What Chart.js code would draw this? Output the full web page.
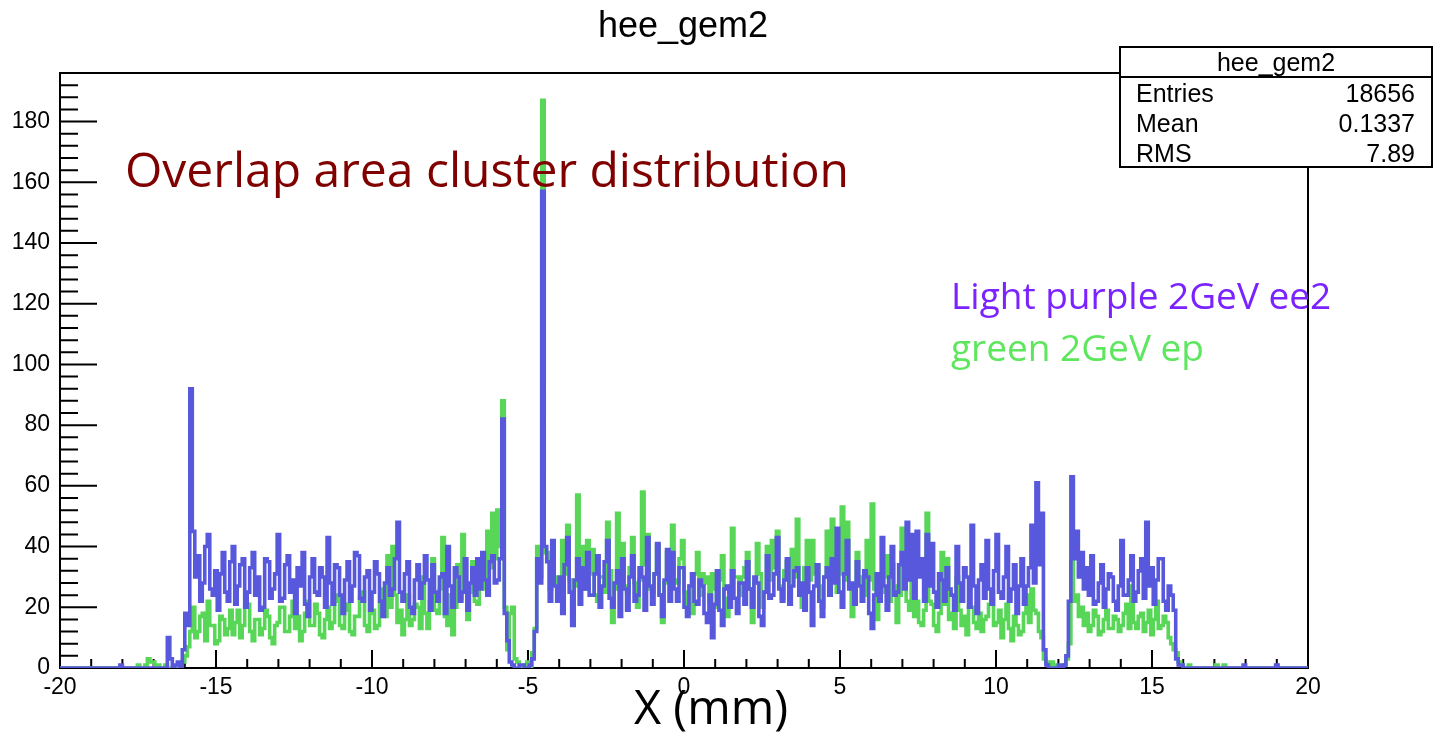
<!DOCTYPE html>
<html>
<head>
<meta charset="utf-8">
<script src="https://cdn.jsdelivr.net/npm/chart.js@4/dist/chart.umd.min.js"></script>
<style>
  html, body { margin: 0; padding: 0; background: #fff; }
</style>
</head>
<body>
<canvas id="c" width="1435" height="732"></canvas>
<script>
// histogram binning (mm), 0.08 mm bins
const xMin = -20;
const xMax = 20;
const nBins = 500;

// light purple: 2GeV ee2 (20 bins per row = 1.6 mm)
const ee2Counts = [
  0, 0, 0, 0, 0, 0, 0, 0, 0, 0, 0, 0, 0, 0, 0, 0, 0, 0, 0, 0,
  0, 0, 0, 0, 0, 1, 0, 0, 0, 0, 0, 0, 0, 0, 0, 0, 0, 0, 0, 0,
  0, 0, 0, 0, 10, 3, 0, 1, 2, 0, 6, 18, 14, 92, 45, 30, 37, 22, 28, 40,
  44, 26, 24, 32, 19, 31, 38, 25, 22, 35, 40, 21, 27, 34, 36, 20, 25, 33, 38, 24,
  30, 19, 20, 36, 35, 23, 26, 31, 44, 22, 23, 34, 37, 25, 29, 18, 33, 27, 38, 21,
  17, 30, 36, 25, 24, 33, 30, 20, 43, 28, 21, 34, 33, 24, 18, 29, 35, 22, 27, 38,
  37, 23, 22, 30, 32, 19, 25, 35, 31, 22, 17, 28, 33, 24, 26, 36, 48, 25, 22, 31,
  35, 20, 18, 29, 34, 23, 28, 37, 29, 19, 34, 25, 22, 30, 31, 18, 40, 27, 20, 33,
  30, 22, 25, 36, 19, 28, 33, 24, 36, 26, 38, 29, 24, 35, 37, 28, 29, 36, 82, 18,
  9, 2, 1, 0, 0, 1, 1, 0, 0, 1, 3, 12, 36, 28, 157, 40, 35, 22, 42, 27,
  22, 30, 18, 34, 43, 25, 14, 29, 36, 21, 33, 26, 38, 24, 24, 31, 37, 20, 27, 35,
  42, 23, 20, 28, 32, 17, 36, 26, 19, 30, 37, 22, 24, 33, 30, 19, 43, 27, 21, 31,
  41, 24, 17, 29, 39, 22, 38, 26, 22, 33, 33, 20, 17, 27, 31, 22, 21, 29, 27, 18,
  15, 24, 10, 21, 32, 19, 14, 26, 27, 20, 32, 23, 18, 28, 28, 21, 35, 26, 20, 30,
  28, 17, 14, 25, 37, 23, 24, 31, 43, 26, 22, 29, 36, 21, 27, 32, 33, 24, 28, 19,
  33, 25, 14, 27, 34, 22, 17, 30, 33, 24, 36, 28, 46, 25, 20, 31, 42, 26, 28, 21,
  35, 27, 22, 32, 30, 18, 13, 24, 31, 22, 43, 27, 19, 30, 40, 24, 25, 34, 38, 26,
  48, 29, 44, 23, 45, 30, 36, 22, 44, 27, 41, 25, 20, 31, 29, 22, 33, 26, 24, 19,
  40, 28, 22, 33, 30, 20, 47, 27, 18, 29, 34, 23, 42, 26, 21, 32, 44, 25, 23, 30,
  40, 22, 26, 34, 18, 27, 36, 21, 27, 33, 47, 28, 61, 34, 51, 6, 1, 0, 0, 0,
  0, 1, 0, 1, 4, 22, 63, 36, 45, 30, 38, 26, 33, 24, 37, 21, 22, 28, 34, 20,
  26, 31, 30, 22, 19, 27, 42, 24, 24, 29, 37, 22, 25, 32, 36, 23, 48, 27, 33, 21,
  29, 36, 36, 22, 19, 27, 24, 19, 3, 1, 1, 0, 0, 0, 0, 0, 0, 0, 0, 0,
  0, 0, 0, 0, 0, 0, 0, 0, 0, 0, 0, 0, 0, 0, 0, 1, 0, 0, 0, 0,
  0, 0, 0, 0, 0, 0, 0, 0, 1, 0, 0, 0, 0, 0, 0, 0, 0, 0, 0, 0
];

// green: 2GeV ep
const epCounts = [
  0, 0, 0, 0, 0, 0, 0, 0, 0, 0, 0, 0, 0, 0, 0, 0, 0, 0, 0, 0,
  0, 0, 0, 0, 0, 0, 0, 0, 0, 0, 0, 0, 1, 0, 0, 1, 3, 2, 2, 1,
  1, 0, 0, 1, 0, 0, 0, 0, 1, 0, 2, 4, 7, 12, 20, 10, 12, 17, 18, 9,
  22, 14, 14, 8, 9, 17, 16, 11, 13, 19, 11, 15, 19, 10, 14, 20, 21, 12, 9, 16,
  16, 11, 13, 19, 17, 10, 8, 14, 15, 20, 20, 12, 12, 17, 22, 13, 17, 9, 12, 18,
  22, 14, 14, 21, 18, 11, 10, 16, 20, 13, 15, 22, 24, 14, 13, 19, 21, 12, 11, 17,
  17, 23, 25, 14, 12, 18, 19, 13, 14, 21, 26, 17, 37, 20, 40, 24, 15, 19, 11, 16,
  24, 14, 16, 21, 20, 13, 30, 18, 13, 22, 36, 19, 18, 26, 43, 17, 14, 24, 11, 20,
  34, 23, 44, 27, 16, 25, 35, 22, 21, 30, 31, 26, 45, 33, 51, 36, 52, 40, 88, 20,
  6, 18, 20, 3, 2, 0, 0, 1, 2, 0, 5, 13, 40, 30, 187, 38, 38, 26, 36, 30,
  28, 22, 42, 31, 47, 29, 16, 27, 57, 33, 40, 26, 42, 31, 39, 24, 22, 30, 30, 25,
  48, 32, 15, 26, 51, 30, 41, 27, 25, 33, 43, 28, 20, 29, 58, 34, 44, 26, 25, 31,
  40, 24, 15, 28, 38, 30, 47, 29, 28, 36, 42, 25, 20, 27, 18, 31, 38, 24, 31, 28,
  30, 22, 31, 26, 20, 29, 37, 23, 17, 27, 46, 30, 30, 24, 30, 33, 38, 26, 15, 28,
  41, 31, 20, 25, 40, 29, 42, 33, 45, 27, 23, 32, 35, 28, 39, 30, 49, 26, 20, 33,
  42, 29, 42, 31, 34, 27, 20, 30, 45, 28, 49, 33, 25, 31, 53, 29, 48, 27, 17, 25,
  38, 30, 27, 24, 42, 29, 54, 26, 16, 23, 25, 30, 37, 22, 34, 27, 15, 24, 46, 28,
  22, 19, 32, 17, 22, 15, 14, 19, 51, 22, 21, 14, 12, 18, 38, 21, 36, 16, 18, 13,
  30, 19, 14, 17, 11, 20, 20, 15, 13, 18, 12, 16, 17, 21, 25, 14, 15, 19, 10, 16,
  21, 13, 9, 17, 14, 11, 12, 18, 24, 15, 26, 19, 18, 12, 10, 3, 2, 1, 2, 1,
  0, 0, 0, 1, 3, 8, 35, 22, 24, 17, 20, 14, 18, 12, 14, 19, 17, 11, 12, 16,
  19, 13, 13, 17, 16, 12, 14, 18, 21, 13, 27, 15, 13, 17, 18, 12, 15, 19, 11, 16,
  22, 13, 14, 17, 15, 10, 8, 6, 5, 2, 1, 0, 0, 1, 0, 0, 0, 0, 0, 0,
  0, 0, 0, 0, 1, 0, 0, 1, 0, 0, 0, 0, 0, 0, 0, 0, 0, 0, 0, 0,
  0, 0, 0, 0, 0, 0, 0, 0, 0, 0, 0, 0, 0, 0, 0, 0, 0, 0, 0, 0
];

const xTickLabels = [-20, -15, -10, -5, 0, 5, 10, 15, 20];
const yTickLabels = [0, 20, 40, 60, 80, 100, 120, 140, 160, 180];
const yMax = 196;

const statNames = ["Entries", "Mean", "RMS"];
const statValues = ["18656", "0.1337", "7.89"];

const histName = "hee_gem2";

// step points: one per bin low edge, plus the last upper edge
function toSteps(counts) {
  const w = (xMax - xMin) / nBins;
  const pts = counts.map((v, i) => ({ x: xMin + i * w, y: v }));
  pts.push({ x: xMax, y: counts[counts.length - 1] });
  return pts;
}

const AXIS_FONT = { family: "'Liberation Sans', Arial, sans-serif", size: 23 };

// ROOT style frame with inward ticks
const rootFrame = {
  id: "rootFrame",
  beforeDatasetsDraw(chart) {
    const { ctx, chartArea: a, scales } = chart;
    const x = scales.x, y = scales.y;
    ctx.save();
    ctx.strokeStyle = "#000";
    ctx.lineWidth = 2;
    ctx.strokeRect(a.left, a.top, a.right - a.left, a.bottom - a.top);
    ctx.beginPath();
    for (let v = 0; v <= yMax; v += 4) {
      const py = y.getPixelForValue(v);
      const len = v % 20 === 0 ? 37 : 18;
      ctx.moveTo(a.left, py);
      ctx.lineTo(a.left + len, py);
    }
    for (let v = xMin; v <= xMax; v++) {
      const px = x.getPixelForValue(v);
      const len = v % 5 === 0 ? 18 : 9;
      ctx.moveTo(px, a.bottom);
      ctx.lineTo(px, a.bottom - len);
    }
    ctx.stroke();
    ctx.restore();
  }
};

const labelsAndStats = {
  id: "labelsAndStats",
  afterDraw(chart) {
    const { ctx } = chart;
    ctx.save();

    // title
    ctx.fillStyle = "#000";
    ctx.font = "36px 'Liberation Sans', Arial, sans-serif";
    ctx.textAlign = "center";
    ctx.textBaseline = "alphabetic";
    ctx.fillText(histName, 683, 37);

    // stats box
    const bx = 1120, by = 47, bw = 312, bh = 120;
    ctx.fillStyle = "#fff";
    ctx.fillRect(bx, by, bw, bh);
    ctx.strokeStyle = "#000";
    ctx.lineWidth = 2;
    ctx.strokeRect(bx, by, bw, bh);
    ctx.beginPath();
    ctx.moveTo(bx, by + 30);
    ctx.lineTo(bx + bw, by + 30);
    ctx.stroke();
    ctx.fillStyle = "#000";
    ctx.font = "25px 'Liberation Sans', Arial, sans-serif";
    ctx.textAlign = "center";
    ctx.fillText(histName, bx + bw / 2, by + 24);
    statNames.forEach((n, i) => {
      const yy = by + 55 + i * 30;
      ctx.textAlign = "left";
      ctx.fillText(n, bx + 16, yy);
      ctx.textAlign = "right";
      ctx.fillText(statValues[i], bx + bw - 17, yy);
    });

    // annotations
    ctx.textAlign = "left";
    ctx.fillStyle = "#800000";
    ctx.font = "48px 'Open Sans', sans-serif";
    ctx.fillText("Overlap area cluster distribution", 125, 187);

    ctx.font = "37px 'Open Sans', sans-serif";
    ctx.fillStyle = "#7a22ff";
    ctx.fillText("Light purple 2GeV ee2", 951, 309);
    ctx.fillStyle = "#5ee65e";
    ctx.fillText("green 2GeV ep", 951, 361);

    ctx.fillStyle = "#000";
    ctx.font = "47px 'Open Sans', sans-serif";
    ctx.textAlign = "center";
    ctx.fillText("X (mm)", 711, 724);

    ctx.restore();
  }
};

const ctx = document.getElementById("c").getContext("2d");
const chart = new Chart(ctx, {
  type: "line",
  data: {
    datasets: [
      {
        label: "ee2",
        data: toSteps(ee2Counts),
        stepped: "after",
        borderColor: "#5858dc",
        borderWidth: 3.6,
        pointRadius: 0,
        fill: false,
        order: 0
      },
      {
        label: "ep",
        data: toSteps(epCounts),
        stepped: "after",
        borderColor: "#58d658",
        borderWidth: 3.6,
        pointRadius: 0,
        fill: false,
        order: 1
      }
    ]
  },
  options: {
    responsive: false,
    animation: false,
    layout: { padding: { top: 73, right: 127, left: 0, bottom: 0 } },
    plugins: {
      legend: { display: false },
      tooltip: { enabled: false }
    },
    scales: {
      x: {
        type: "linear",
        min: xMin,
        max: xMax,
        grid: { display: false },
        border: { display: false },
        afterBuildTicks: s => { s.ticks = xTickLabels.map(v => ({ value: v })); },
        afterFit: s => { s.height = 64; },
        ticks: { font: AXIS_FONT, color: "#000", padding: -2, maxRotation: 0, autoSkip: false }
      },
      y: {
        type: "linear",
        min: 0,
        max: yMax,
        grid: { display: false },
        border: { display: false },
        afterBuildTicks: s => { s.ticks = yTickLabels.map(v => ({ value: v })); },
        afterFit: s => { s.width = 60; },
        ticks: { font: AXIS_FONT, color: "#000", padding: 2 }
      }
    }
  },
  plugins: [rootFrame, labelsAndStats]
});
</script>
</body>
</html>
